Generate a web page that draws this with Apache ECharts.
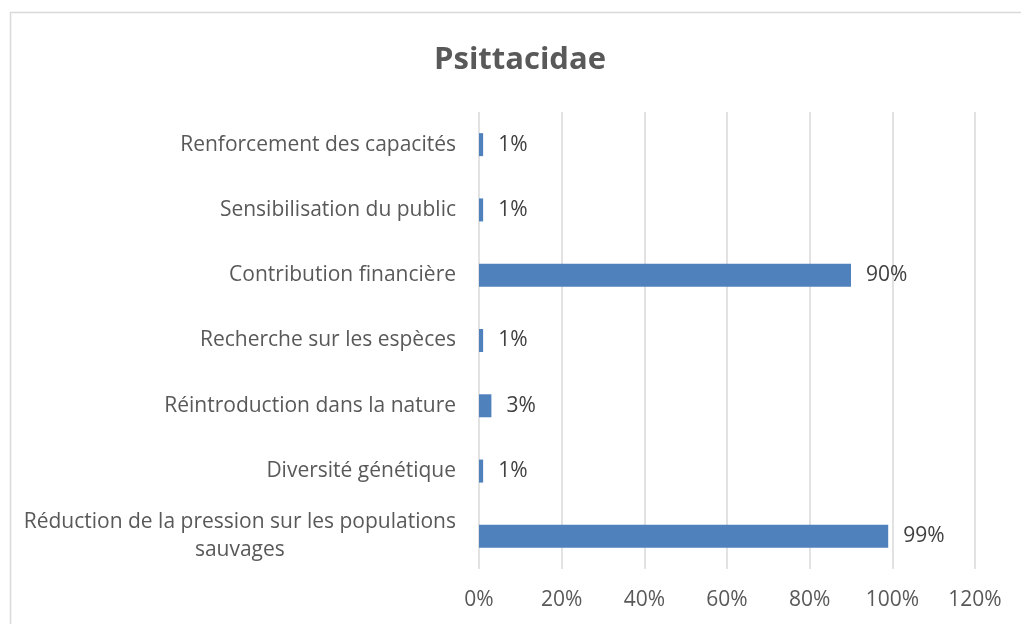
<!DOCTYPE html>
<html>
<head>
<meta charset="utf-8">
<script src="https://cdn.jsdelivr.net/npm/echarts@6/dist/echarts.min.js"></script>
<style>
html,body{margin:0;padding:0;background:#fff;}
#chart{width:1021px;height:624px;}
</style>
</head>
<body>
<div id="chart"></div>
<script>
const title = "Psittacidae";
const categories = [
  "Renforcement des capacités",
  "Sensibilisation du public",
  "Contribution financière",
  "Recherche sur les espèces",
  "Réintroduction dans la nature",
  "Diversité génétique",
  "Réduction de la pression sur les populations\nsauvages"
];
const values = [1, 1, 90, 1, 3, 1, 99];
const xTicks = [0, 20, 40, 60, 80, 100, 120];

const FONT = "Open Sans";
const chart = echarts.init(document.getElementById('chart'));
chart.setOption({
  animation: false,
  backgroundColor: '#fff',
  textStyle: { fontFamily: FONT },
  graphic: [{
    type: 'rect', silent: true,
    shape: { x: 10.5, y: 12.5, width: 1200, height: 800 },
    style: { fill: 'none', stroke: '#d9d9d9', lineWidth: 1.5 }
  }],
  title: {
    text: title, left: 429, top: 40,
    textStyle: { fontFamily: FONT, fontSize: 31, fontWeight: 'bold', color: '#595959' }
  },
  grid: { left: 479, right: 46, top: 112, bottom: 55, containLabel: false },
  xAxis: {
    type: 'value', min: xTicks[0], max: xTicks[xTicks.length - 1], interval: 20,
    axisLine: { show: false }, axisTick: { show: false },
    axisLabel: { formatter: v => v + '%', color: '#595959', fontSize: 21, margin: 21, fontFamily: FONT },
    splitLine: { show: true, lineStyle: { color: '#d9d9d9', width: 1.5 } }
  },
  yAxis: {
    type: 'category', data: categories, inverse: true,
    axisLine: { show: false }, axisTick: { show: false },
    axisLabel: {
      color: '#595959', fontSize: 21, margin: 23, fontFamily: FONT, lineHeight: 28,
      formatter: function (v) {
        if (v.indexOf('\n') >= 0) {
          return v.split('\n').map(s => '{c|' + s + '}').join('\n');
        }
        return v;
      },
      rich: { c: { align: 'center', color: '#595959', fontSize: 21, fontFamily: FONT, lineHeight: 28 } }
    }
  },
  series: [{
    type: 'bar', data: values, barWidth: 23,
    itemStyle: { color: '#4f81bd' },
    label: {
      show: true, position: 'right', distance: 15,
      formatter: p => p.value + '%', color: '#404040', fontSize: 21, fontFamily: FONT
    }
  }]
});
</script>
</body>
</html>
